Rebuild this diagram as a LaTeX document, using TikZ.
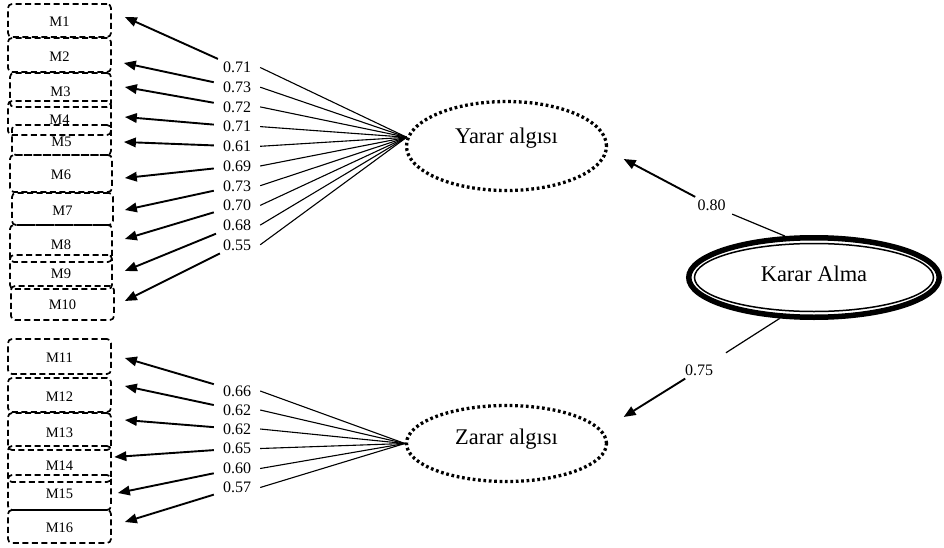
\documentclass[tikz,border=0pt]{standalone}
\usepackage{fontspec}
\setmainfont{Liberation Serif}
\usetikzlibrary{arrows.meta,shapes.geometric}
\begin{document}
\begin{tikzpicture}[x=1pt,y=-1pt,
 mbox/.style={draw, dash pattern=on 6pt off 3.5pt, line width=1.7pt, rounded corners=4pt, inner sep=0pt, font=\fontsize{14.5}{16}\selectfont, text height=12.2pt, text depth=0pt},
 coef/.style={inner xsep=9pt, inner ysep=3pt, font=\fontsize{16}{18}\selectfont, text height=10.8pt, text depth=0pt},
 latent/.style={ellipse, draw, line width=3.3pt, dash pattern=on 2.7pt off 2.7pt, inner sep=0pt, font=\fontsize{22.4}{26}\selectfont, minimum width=200pt, minimum height=89pt},
 thinline/.style={line width=1.1pt},
 pathline/.style={line width=1.2pt},
 load/.style={line width=1.9pt, -{Triangle[length=12pt,width=9.5pt]}},
]
\useasboundingbox (0,0) rectangle (944,548);

% latent variables
\node[latent, text height=15pt, text depth=20.4pt] (yarar) at (506.5,146) {Yarar algısı};
\node[latent, minimum height=76pt, text height=15pt, text depth=13.4pt] (zarar) at (506.5,443.5) {Zarar algısı};
\node[ellipse, draw, line width=5.5pt, minimum width=250.5pt, minimum height=79.5pt, inner sep=0pt, font=\fontsize{22.4}{26}\selectfont, text height=15pt, text depth=6.6pt] (karar) at (814,277.5) {Karar Alma};
\draw[line width=1.5pt] (karar.center) ellipse [x radius=119.5pt, y radius=34pt];

% indicator boxes
\node[mbox, minimum width=103pt, minimum height=33pt] (M1) at (59.5,20.5) {M1};
\node[mbox, minimum width=103pt, minimum height=34pt] (M2) at (59.5,55) {M2};
\node[mbox, minimum width=101pt, minimum height=34pt] (M3) at (60.5,90) {M3};
\node[mbox, minimum width=103pt, minimum height=34pt] (M4) at (59.5,118) {M4};
\node[mbox, minimum width=99pt, minimum height=30pt] (M5) at (61.5,140) {M5};
\node[mbox, minimum width=102pt, minimum height=37pt] (M6) at (61,173.5) {M6};
\node[mbox, minimum width=101pt, minimum height=32pt] (M7) at (62.5,209) {M7};
\node[mbox, minimum width=102pt, minimum height=37pt] (M8) at (61,243.5) {M8};
\node[mbox, minimum width=102pt, minimum height=34pt] (M9) at (61,272) {M9};
\node[mbox, minimum width=103pt, minimum height=34pt] (M10) at (62.5,303) {M10};
\node[mbox, minimum width=103pt, minimum height=35pt] (M11) at (59.5,356.5) {M11};
\node[mbox, minimum width=103pt, minimum height=34pt] (M12) at (59.5,395) {M12};
\node[mbox, minimum width=103pt, minimum height=37pt] (M13) at (59.5,431.5) {M13};
\node[mbox, minimum width=103pt, minimum height=36pt] (M14) at (59.5,464) {M14};
\node[mbox, minimum width=103pt, minimum height=35pt] (M15) at (59.5,492.5) {M15};
\node[mbox, minimum width=103pt, minimum height=33pt] (M16) at (59.5,526.5) {M16};

% coefficient labels
\node[coef] (ya1) at (237,67.5) {0.71};
\node[coef] (ya2) at (237,87.2) {0.73};
\node[coef] (ya3) at (237,106.9) {0.72};
\node[coef] (ya4) at (237,126.6) {0.71};
\node[coef] (ya5) at (237,146.3) {0.61};
\node[coef] (ya6) at (237,166) {0.69};
\node[coef] (ya7) at (237,185.7) {0.73};
\node[coef] (ya8) at (237,205.4) {0.70};
\node[coef] (ya9) at (237,225.1) {0.68};
\node[coef] (ya10) at (237,244.8) {0.55};
\node[coef] (za1) at (237,391) {0.66};
\node[coef] (za2) at (237,410) {0.62};
\node[coef] (za3) at (237,429) {0.62};
\node[coef] (za4) at (237,448.5) {0.65};
\node[coef] (za5) at (237,468.5) {0.60};
\node[coef] (za6) at (237,487.5) {0.57};
\node[coef] (lk1) at (711.5,205.5) {0.80};
\node[coef] (lk2) at (699,370) {0.75};

% lines from latent to labels
\foreach \i in {1,...,10} \draw[thinline] (yarar.175) -- (ya\i.east);
\foreach \i in {1,...,6} \draw[thinline] (zarar.west) -- (za\i.east);

% loading arrows
\draw[load] (ya1) -- ([xshift=13pt,yshift=3.5pt]M1.east);
\draw[load] (ya2) -- ([xshift=12pt,yshift=-8pt]M2.east);
\draw[load] (ya3) -- ([xshift=13pt,yshift=3pt]M3.east);
\draw[load] (ya4) -- ([xshift=13pt,yshift=1pt]M4.east);
\draw[load] (ya5) -- ([xshift=12pt,yshift=-2pt]M5.east);
\draw[load] (ya6) -- ([xshift=12pt,yshift=-4.5pt]M6.east);
\draw[load] (ya7) -- ([xshift=11pt,yshift=-1pt]M7.east);
\draw[load] (ya8) -- ([xshift=12pt,yshift=4.5pt]M8.east);
\draw[load] (ya9) -- ([xshift=12pt,yshift=1pt]M9.east);
\draw[load] (ya10) -- ([xshift=10pt,yshift=2pt]M10.east);
\draw[load] (za1) -- ([xshift=13pt,yshift=-1.5pt]M11.east);
\draw[load] (za2) -- ([xshift=13pt,yshift=9pt]M12.east);
\draw[load] (za3) -- ([xshift=13pt,yshift=11.5pt]M13.east);
\draw[load] (za4) -- ([xshift=2.5pt,yshift=7pt]M14.east);
\draw[load] (za5) -- ([xshift=6pt,yshift=-0.5pt]M15.east);
\draw[load] (za6) -- ([xshift=13pt,yshift=4.5pt]M16.east);

% structural paths
\draw[pathline] (karar.125) -- (lk1);
\draw[load] (lk1) -- ([xshift=15.5pt,yshift=-13pt]yarar.east);
\draw[pathline, shorten >=16pt] (karar.230) -- (lk2);
\draw[load] (lk2) -- ([xshift=15.5pt,yshift=26.5pt]zarar.east);
\end{tikzpicture}
\end{document}
